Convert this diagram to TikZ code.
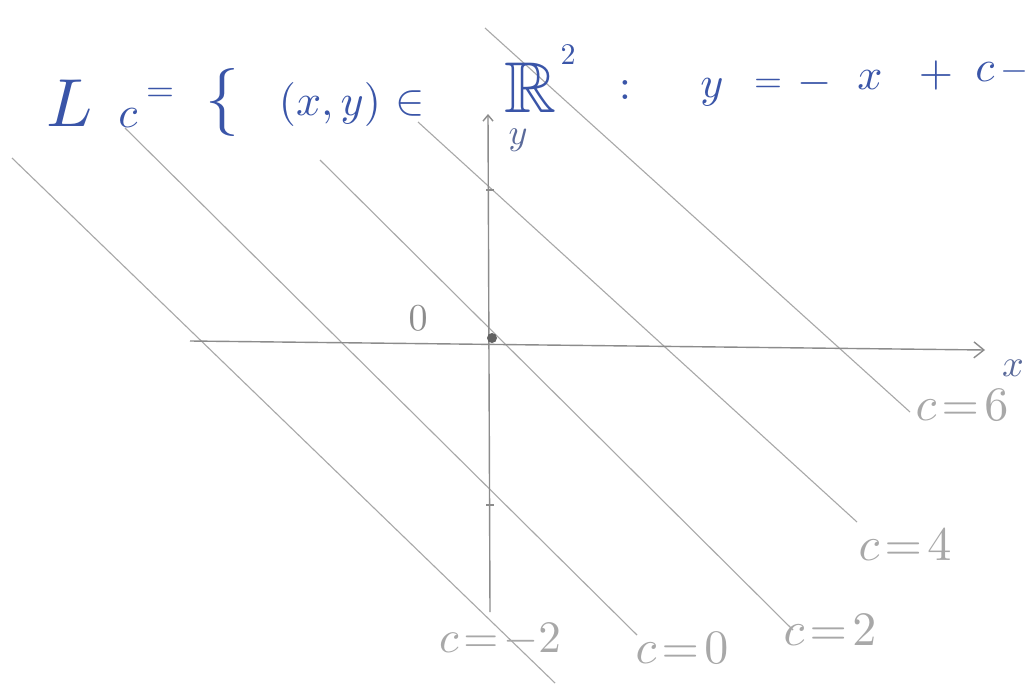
\documentclass[tikz,border=0pt]{standalone}
\usepackage{amssymb}
\usetikzlibrary{arrows.meta}
\definecolor{ink}{HTML}{3A55A8}
\definecolor{inkgray}{HTML}{5A6A9A}
\definecolor{pencil}{HTML}{8C8C8C}
\definecolor{pencillt}{HTML}{A8A8A8}
\begin{document}
\begin{tikzpicture}[x=1pt,y=-1pt,
  level/.style={draw=pencillt,line width=1.1pt},
  axis/.style={draw=pencil,line width=1.4pt},
  inktext/.style={text=ink,inner sep=0pt,scale=#1},
  inktext/.default=4.4,
  pentext/.style={text=pencillt,inner sep=0pt,scale=#1},
  pentext/.default=4.8,
]
\useasboundingbox (0,0) rectangle (1028,685);
\fill[white] (0,0) rectangle (1028,685);
% level lines
\coordinate (a1) at (12,158);   \coordinate (b1) at (555,683);
\coordinate (a2) at (125,128);  \coordinate (b2) at (637,635);
\coordinate (a3) at (320,160);  \coordinate (b3) at (793,630);
\coordinate (a4) at (418,122);  \coordinate (b4) at (857,522);
\coordinate (a5) at (485,28);   \coordinate (b5) at (910,412);
\foreach \i in {1,...,5} \draw[level] (a\i) -- (b\i);
% axes
\coordinate (xs) at (190,341); \coordinate (xe) at (985,350);
\coordinate (ys) at (490,612); \coordinate (ye) at (488,114);
\draw[axis,-{Straight Barb[length=10pt,width=16pt]}] (xs) -- (xe);
\draw[axis,-{Straight Barb[length=6pt,width=10pt]}] (ys) -- (ye);
\draw[axis] (486,190) -- (494,190);
\draw[axis] (486,505) -- (494,505);
\fill[pencil!70!black] (492,338) circle (5pt);
\node[pentext=3.8,text=pencil] (o) at (418,318) {$0$};
\node[inktext=3.8,text=inkgray] (xl) at (1013,368) {$x$};
\node[inktext=3.6,text=inkgray] (yl) at (518,140) {$y$};
% level labels
\node[pentext] (l6) at (962,405) {$c\!=\!6$};
\node[pentext] (l4) at (905,545) {$c\!=\!4$};
\node[pentext] (l2) at (830,630) {$c\!=\!2$};
\node[pentext] (l0) at (682,648) {$c\!=\!0$};
\node[pentext=4.5] (lm2) at (500,640) {$c\!=\!{-}2$};
% title
\node[inktext=6.8] (tL) at (70,103) {$L$};
\node[inktext=4.4] (tc) at (128,118) {$c$};
\node[inktext=3.6] (te1) at (160,95) {$=$};
\node[inktext=6.8] (tbr) at (222,102) {$\{$};
\node[inktext] (txy) at (330,104) {$(x,y)$};
\node[inktext] (tin) at (410,103) {$\in$};
\node[inktext=7.2] (tR) at (530,88) {$\mathbb{R}$};
\node[inktext=3] (t2) at (568,55) {$2$};
\node[inktext] (tcol) at (625,90) {$:$};
\node[inktext] (ty) at (712,92) {$y$};
\node[inktext=3.6] (te2) at (768,86) {$=$};
\node[inktext] (tm1) at (815,84) {$-$};
\node[inktext] (tx) at (870,80) {$x$};
\node[inktext] (tp) at (936,76) {$+$};
\node[inktext] (tc2) at (985,72) {$c$};
\node[inktext=3.6] (tm2) at (1014,72) {$-$};
\end{tikzpicture}
\end{document}
